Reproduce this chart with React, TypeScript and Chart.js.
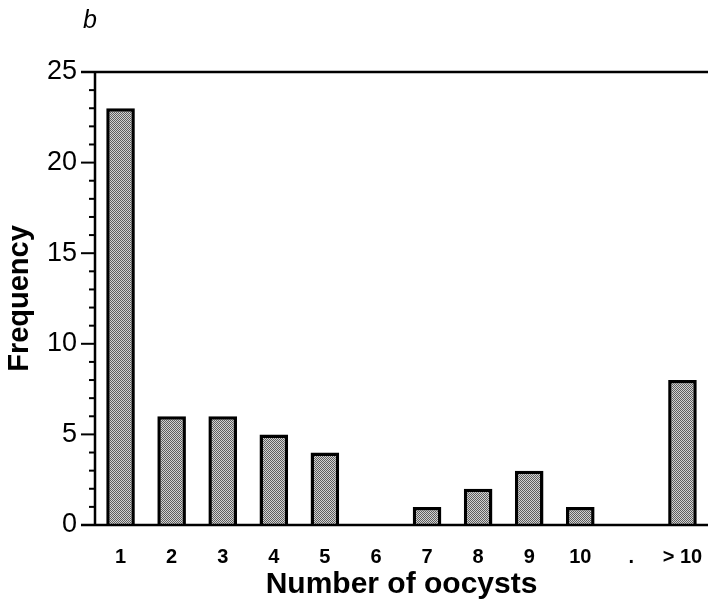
import React, { useEffect, useRef } from "react";
import { Chart, registerables } from "chart.js";

Chart.register(...registerables);

const categories = ["1", "2", "3", "4", "5", "6", "7", "8", "9", "10", ".", "> 10"];
const frequency = [23, 6, 6, 5, 4, 0, 1, 2, 3, 1, 0, 8];
const yMajorTicks = [0, 5, 10, 15, 20, 25];
const panelLabel = "b";
const xTitle = "Number of oocysts";
const yTitle = "Frequency";

const FONT = '"Liberation Sans", Arial, Helvetica, sans-serif';

function makeStipple(): CanvasPattern | string {
  const c = document.createElement("canvas");
  c.width = 4;
  c.height = 4;
  const g = c.getContext("2d");
  if (!g) return "#9c9c9c";
  const dark = "#5e5e5e";
  const light = "#d2d2d2";
  for (let y = 0; y < 4; y++) {
    for (let x = 0; x < 4; x++) {
      g.fillStyle = (x + y) % 2 === 0 ? dark : light;
      g.fillRect(x, y, 1, 1);
    }
  }
  const p = g.createPattern(c, "repeat");
  return p || "#9c9c9c";
}

// Axis frame, tick marks and the panel letter
const framePlugin = {
  id: "frame",
  afterDraw(chart: any) {
    const { ctx, chartArea, scales } = chart;
    const y = scales.y;
    const left = chartArea.left;
    const right = chartArea.right;
    ctx.save();
    ctx.strokeStyle = "#000";
    ctx.lineCap = "butt";

    // left axis
    ctx.lineWidth = 2.5;
    ctx.beginPath();
    ctx.moveTo(left, y.getPixelForValue(25) - 1);
    ctx.lineTo(left, y.getPixelForValue(0) + 1);
    ctx.stroke();

    // tick marks: majors every 5, minors every 1
    ctx.lineWidth = 2;
    for (let v = 0; v <= 25; v++) {
      const py = y.getPixelForValue(v);
      const len = yMajorTicks.includes(v) ? 14 : 6;
      ctx.beginPath();
      ctx.moveTo(left - len, py);
      ctx.lineTo(left, py);
      ctx.stroke();
    }

    // bottom axis and top frame line
    ctx.lineWidth = 2.5;
    ctx.beginPath();
    ctx.moveTo(left - 14, y.getPixelForValue(0));
    ctx.lineTo(right, y.getPixelForValue(0));
    ctx.moveTo(left - 14, y.getPixelForValue(25));
    ctx.lineTo(right, y.getPixelForValue(25));
    ctx.stroke();

    // panel letter
    ctx.fillStyle = "#000";
    ctx.font = `italic 25px ${FONT}`;
    ctx.textAlign = "left";
    ctx.textBaseline = "alphabetic";
    ctx.fillText(panelLabel, 83, 28);
    ctx.restore();
  },
};

export default function App() {
  const canvasRef = useRef<HTMLCanvasElement | null>(null);

  useEffect(() => {
    const canvas = canvasRef.current;
    if (!canvas) return;
    const fill = makeStipple();
    const chart = new Chart(canvas, {
      type: "bar",
      data: {
        labels: categories,
        datasets: [
          {
            data: frequency,
            backgroundColor: fill as any,
            borderColor: "#000",
            borderWidth: 3.5,
            borderSkipped: "bottom",
            barPercentage: 0.56,
            categoryPercentage: 1,
          },
        ],
      },
      options: {
        animation: false,
        responsive: false,
        devicePixelRatio: 1,
        layout: { padding: { top: 72, right: 1, left: 0, bottom: 0 } },
        plugins: {
          legend: { display: false },
          tooltip: { enabled: false },
        },
        scales: {
          x: {
            type: "category",
            offset: true,
            grid: { display: false, drawTicks: false },
            border: { display: false },
            ticks: {
              color: "#000",
              font: { family: FONT, size: 20, weight: "bold" },
              padding: 20,
              maxRotation: 0,
              autoSkip: false,
            },
            title: {
              display: true,
              text: xTitle,
              color: "#000",
              font: { family: FONT, size: 30, weight: "bold" },
              padding: { top: 0, bottom: 1 },
            },
            afterFit(scale: any) {
              scale.height = 79;
              scale.paddingLeft = 0;
              scale.paddingRight = 0;
            },
          },
          y: {
            min: 0,
            max: 25,
            grid: { display: false, drawTicks: false },
            border: { display: false },
            ticks: {
              stepSize: 5,
              color: "#000",
              font: { family: FONT, size: 27 },
              padding: 18,
            },
            title: {
              display: true,
              text: yTitle,
              color: "#000",
              font: { family: FONT, size: 29, weight: "bold" },
              padding: { top: 3, bottom: 0 },
            },
            afterFit(scale: any) {
              scale.width = 95;
            },
          },
        },
      },
      plugins: [framePlugin],
    });
    return () => chart.destroy();
  }, []);

  return (
    <div style={{ position: "absolute", left: 0, top: 0, width: 709, height: 604, background: "#fff" }}>
      <canvas ref={canvasRef} width={709} height={604} />
    </div>
  );
}
